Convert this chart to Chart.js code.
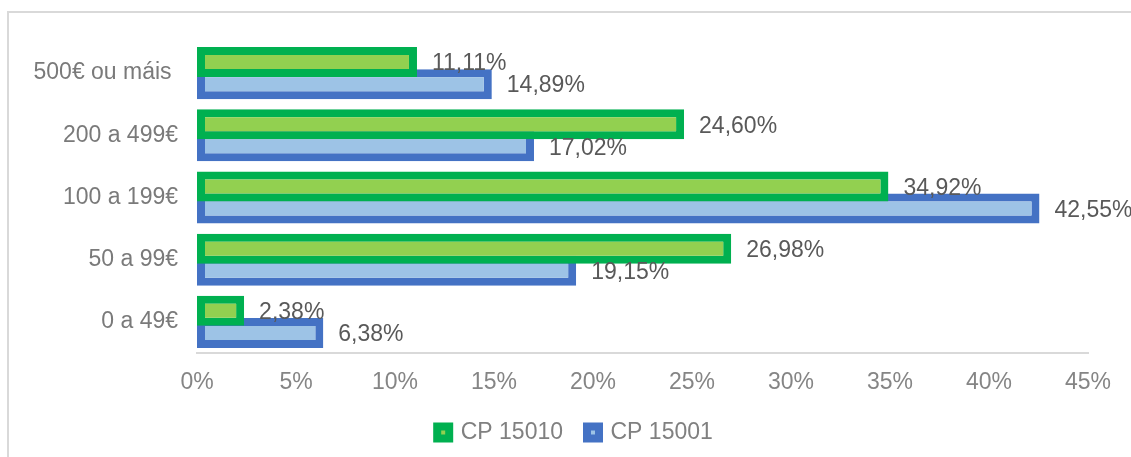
<!DOCTYPE html>
<html>
<head>
<meta charset="utf-8">
<script src="https://cdn.jsdelivr.net/npm/chart.js@4.4.1/dist/chart.umd.min.js"></script>
<style>
  html, body { margin: 0; padding: 0; background: #fff; overflow: hidden; }
  #frame { position: absolute; left: 7px; top: 11px; width: 1200px; height: 500px; border: 2px solid #d9d9d9; }
  #wrap { position: absolute; left: 0; top: 0; width: 1131px; height: 457px; }
</style>
</head>
<body>
<div id="frame"></div>
<div id="wrap"><canvas id="chart"></canvas></div>
<script>
// ----------------------------------------------------------------------
// Data
// ----------------------------------------------------------------------
const categories = ["500€ ou máis ", "200 a 499€", "100 a 199€", "50 a 99€", "0 a 49€"];
const seriesNames = ["CP 15010", "CP 15001"];
const cp15010 = [11.11, 24.60, 34.92, 26.98, 2.38];
const cp15001 = [14.89, 17.02, 42.55, 19.15, 6.38];
const xTickValues = [0, 5, 10, 15, 20, 25, 30, 35, 40, 45];

const FONT = "'Liberation Sans', Arial, sans-serif";
const fmt = (v) => v.toFixed(2).replace(".", ",") + "%";

// value labels at the end of each bar
const barLabels = {
  id: "barLabels",
  afterDatasetsDraw(chart) {
    const ctx = chart.ctx;
    ctx.save();
    ctx.font = `23px ${FONT}`;
    ctx.fillStyle = "#595959";
    ctx.textAlign = "left";
    ctx.textBaseline = "middle";
    chart.data.datasets.forEach((ds, i) => {
      chart.getDatasetMeta(i).data.forEach((bar, j) => {
        ctx.fillText(fmt(ds.data[j]), bar.x + 15, bar.y + 2);
      });
    });
    ctx.restore();
  },
};

// the legend in the picture sits a bit right of the canvas centre
const shiftLegend = {
  id: "shiftLegend",
  afterLayout(chart) {
    chart.legend.left += 62;
  },
};

new Chart(document.getElementById("chart"), {
  type: "bar",
  data: {
    labels: categories,
    datasets: [
      {
        label: seriesNames[0],
        data: cp15010,
        backgroundColor: "#92D050",
        borderColor: "#00B050",
        borderWidth: 8,
        borderSkipped: false,
      },
      {
        label: seriesNames[1],
        data: cp15001,
        backgroundColor: "#9DC3E6",
        borderColor: "#4472C4",
        borderWidth: 8,
        borderSkipped: false,
      },
    ],
  },
  options: {
    indexAxis: "y",
    responsive: true,
    maintainAspectRatio: false,
    animation: false,
    categoryPercentage: 0.71,
    barPercentage: 1.36,
    layout: { padding: { left: 0, top: 42, right: 43, bottom: 3 } },
    scales: {
      x: {
        min: 0,
        max: 45,
        afterBuildTicks(scale) {
          scale.ticks = xTickValues.map((v) => ({ value: v }));
        },
        afterFit(scale) { scale.height = 44; },
        ticks: {
          color: "#858585",
          padding: 16,
          font: { family: FONT, size: 23 },
          callback: (v) => v + "%",
        },
        grid: { display: false, drawTicks: false },
        border: { display: true, color: "#d9d9d9", width: 2 },
      },
      y: {
        afterFit(scale) { scale.width = 197; },
        ticks: {
          color: "#7a7a7a",
          padding: 19,
          font: { family: FONT, size: 23 },
        },
        grid: { display: false, drawTicks: false },
        border: { display: false },
      },
    },
    plugins: {
      tooltip: { enabled: false },
      legend: {
        position: "bottom",
        labels: {
          boxWidth: 12,
          boxHeight: 12,
          padding: 24,
          color: "#808080",
          font: { family: FONT, size: 23 },
          generateLabels(chart) {
            return chart.data.datasets.map((ds, i) => ({
              text: ds.label,
              fillStyle: ds.backgroundColor,
              strokeStyle: ds.borderColor,
              lineWidth: 8,
              fontColor: "#808080",
              hidden: false,
              datasetIndex: i,
            }));
          },
        },
      },
    },
  },
  plugins: [barLabels, shiftLegend],
});
</script>
</body>
</html>
